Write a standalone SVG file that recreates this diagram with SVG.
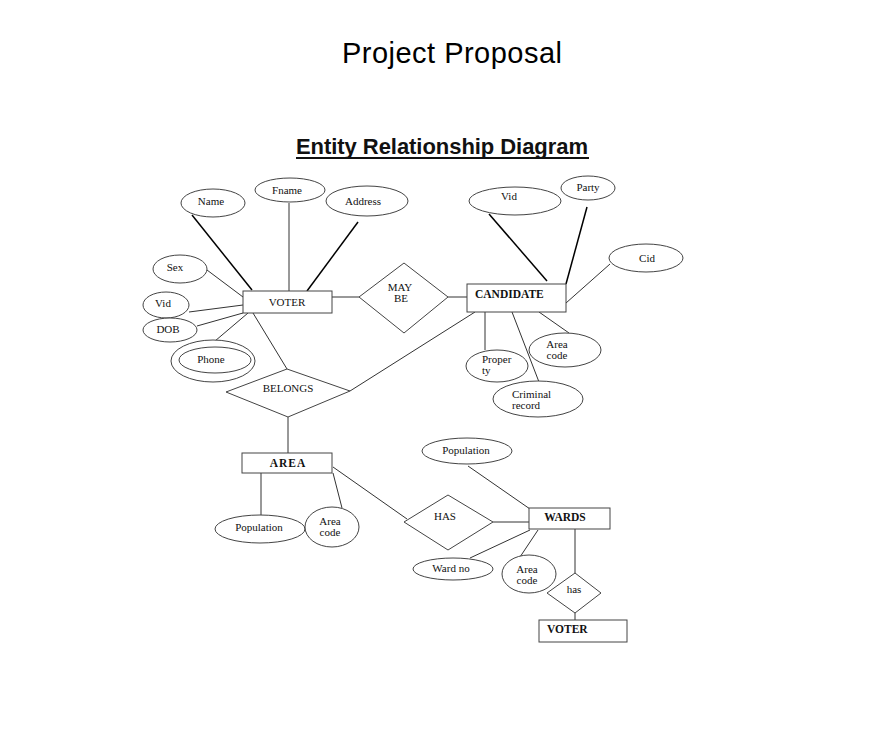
<svg xmlns="http://www.w3.org/2000/svg" width="871" height="744" viewBox="0 0 871 744">
<style>
.s{fill:none;stroke:#333;stroke-width:1}
.h{stroke:#000;stroke-width:1.5}
.e{fill:#fff;stroke:#444;stroke-width:1}
.t{font-family:"Liberation Serif",serif;font-size:11px;fill:#111}
.b{font-family:"Liberation Serif",serif;font-size:11.5px;font-weight:bold;fill:#111}
.c{text-anchor:middle}
</style>
<rect width="871" height="744" fill="#fff"/>
<text x="452" y="63" font-family="Liberation Sans,sans-serif" font-size="29" text-anchor="middle" textLength="220" fill="#000">Project Proposal</text>
<text x="442" y="154" font-family="Liberation Sans,sans-serif" font-size="22" font-weight="bold" text-anchor="middle" textLength="292" fill="#111">Entity Relationship Diagram</text>
<line x1="296" y1="158" x2="589" y2="158" stroke="#111" stroke-width="2"/>
<g id="connectors" class="s">
<line x1="192" y1="215" x2="252" y2="290" class="h"/>
<line x1="289" y1="203" x2="289" y2="291"/>
<line x1="358" y1="222" x2="307" y2="291" class="h"/>
<line x1="207" y1="270" x2="243" y2="297"/>
<line x1="189" y1="312" x2="243" y2="305"/>
<line x1="197" y1="326" x2="243" y2="313"/>
<line x1="215" y1="341" x2="248" y2="313"/>
<line x1="253" y1="313" x2="287" y2="369"/>
<line x1="332" y1="297" x2="359" y2="297"/>
<line x1="448" y1="297" x2="467" y2="297"/>
<line x1="489" y1="214" x2="547" y2="281" class="h"/>
<line x1="587" y1="207" x2="566" y2="284" class="h"/>
<line x1="610" y1="264" x2="566" y2="303"/>
<line x1="485" y1="312" x2="485" y2="350"/>
<line x1="539" y1="312" x2="569" y2="333"/>
<line x1="512" y1="312" x2="539" y2="382"/>
<line x1="350" y1="391" x2="475" y2="312"/>
<line x1="288" y1="417" x2="288" y2="453"/>
<line x1="261" y1="473" x2="261" y2="515"/>
<line x1="333" y1="473" x2="342" y2="508"/>
<line x1="333" y1="467" x2="407" y2="519"/>
<line x1="493" y1="522" x2="529" y2="522"/>
<line x1="468" y1="466" x2="530" y2="509"/>
<line x1="470" y1="558" x2="530" y2="530"/>
<line x1="520" y1="557" x2="538" y2="530"/>
<line x1="575" y1="529" x2="575" y2="573"/>
<line x1="575" y1="613" x2="575" y2="620"/>
</g>
<g id="voter"><rect x="243" y="291" width="89" height="22" class="e"/><text x="287" y="306" class="t c" font-size="13">VOTER</text></g>
<g id="name"><ellipse cx="213" cy="203" rx="32" ry="14" class="e"/><text x="211" y="205" class="t c">Name</text></g>
<g id="fname"><ellipse cx="290" cy="190" rx="35" ry="12" class="e"/><text x="287" y="194" class="t c">Fname</text></g>
<g id="address"><ellipse cx="367" cy="201" rx="41" ry="15" class="e"/><text x="363" y="205" class="t c">Address</text></g>
<g id="sex"><ellipse cx="180" cy="269" rx="27" ry="14" class="e"/><text x="175" y="271" class="t c" font-size="10">Sex</text></g>
<g id="vid1"><ellipse cx="166" cy="305" rx="23" ry="13" class="e"/><text x="163" y="307" class="t c" font-size="10">Vid</text></g>
<g id="dob"><ellipse cx="170" cy="330" rx="27" ry="12" class="e"/><text x="168" y="333" class="t c" font-size="10">DOB</text></g>
<g id="phone"><ellipse cx="213" cy="361" rx="42" ry="21" class="e"/><ellipse cx="215" cy="360" rx="36" ry="13" class="e"/><text x="211" y="363" class="t c" font-size="10">Phone</text></g>
<g id="maybe"><polygon points="359,297 404,263 448,297 404,333" class="e"/><text x="400" y="291" class="t c" font-size="10.5">MAY</text><text x="401" y="302" class="t c" font-size="10.5">BE</text></g>
<g id="candidate"><rect x="467" y="284" width="99" height="28" class="e"/><text x="475" y="298" class="b" font-size="11">CANDIDATE</text></g>
<g id="vid2"><ellipse cx="515" cy="201" rx="46" ry="14" class="e"/><text x="509" y="200" class="t c">Vid</text></g>
<g id="party"><ellipse cx="588" cy="188" rx="27" ry="12" class="e"/><text x="588" y="191" class="t c">Party</text></g>
<g id="cid"><ellipse cx="646" cy="258" rx="37" ry="14" class="e"/><text x="647" y="262" class="t c" font-size="10">Cid</text></g>
<g id="property"><ellipse cx="497" cy="366" rx="31" ry="16" class="e"/><text x="482" y="363" class="t" font-size="10.5">Proper</text><text x="482" y="374" class="t" font-size="10.5">ty</text></g>
<g id="areacode1"><ellipse cx="565" cy="350" rx="36" ry="17" class="e"/><text x="557" y="348" class="t c" font-size="10.5">Area</text><text x="557" y="359" class="t c" font-size="10.5">code</text></g>
<g id="criminal"><ellipse cx="538" cy="399" rx="45" ry="18" class="e"/><text x="512" y="398" class="t" font-size="10.5">Criminal</text><text x="512" y="409" class="t" font-size="10.5">record</text></g>
<g id="belongs"><polygon points="226,392 287,369 350,391 288,417" class="e"/><text x="288" y="392" class="t c" font-size="10.5">BELONGS</text></g>
<g id="area"><rect x="242" y="453" width="90" height="20" class="e"/><text x="288" y="467" class="b c" letter-spacing="1">AREA</text></g>
<g id="population1"><ellipse cx="260" cy="529" rx="45" ry="14" class="e"/><text x="259" y="531" class="t c" font-size="10.5">Population</text></g>
<g id="areacode2"><ellipse cx="332" cy="527" rx="27" ry="20" class="e"/><text x="330" y="525" class="t c" font-size="10.5">Area</text><text x="330" y="536" class="t c" font-size="10.5">code</text></g>
<g id="has1"><polygon points="404,522 448,495 493,522 448,550" class="e"/><text x="445" y="520" class="t c" font-size="10.5">HAS</text></g>
<g id="wards"><rect x="529" y="508" width="81" height="21" class="e"/><text x="565" y="521" class="b c" font-size="11">WARDS</text></g>
<g id="population2"><ellipse cx="467" cy="451" rx="45" ry="13" class="e"/><text x="466" y="454" class="t c" font-size="10.5">Population</text></g>
<g id="wardno"><ellipse cx="453" cy="569" rx="40" ry="11" class="e"/><text x="451" y="572" class="t c" font-size="10.5">Ward no</text></g>
<g id="areacode3"><ellipse cx="529" cy="574" rx="27" ry="19" class="e"/><text x="527" y="573" class="t c" font-size="10.5">Area</text><text x="527" y="584" class="t c" font-size="10.5">code</text></g>
<g id="has2"><polygon points="547,593 575,573 601,593 575,613" class="e"/><text x="574" y="593" class="t c" font-size="10.5">has</text></g>
<g id="voter2"><rect x="539" y="620" width="88" height="22" class="e"/><text x="547" y="633" class="b" font-size="11">VOTER</text></g>
</svg>
